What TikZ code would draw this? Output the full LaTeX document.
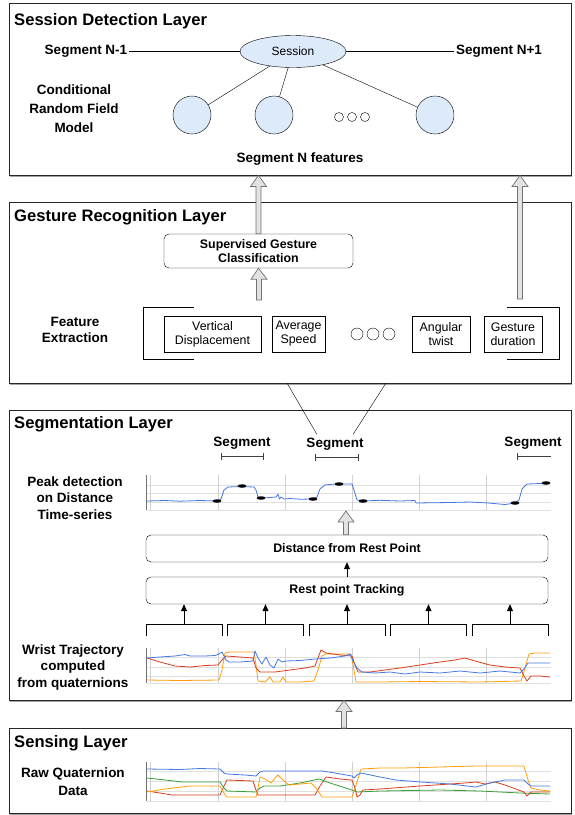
\documentclass[tikz,border=0pt]{standalone}
\usepackage{fontspec}
\setmainfont{Liberation Sans}
\usetikzlibrary{shapes.geometric,arrows.meta,calc,shadows}
\definecolor{nodeblue}{RGB}{221,234,250}
\definecolor{hollow}{RGB}{226,226,226}
\definecolor{gblue}{RGB}{70,120,228}
\definecolor{gred}{RGB}{218,62,28}
\definecolor{gorange}{RGB}{255,158,10}
\definecolor{ggreen}{RGB}{52,160,52}
\tikzset{
  layer/.style={draw=black!85, line width=0.9pt, fill=white, inner sep=0pt,
    drop shadow={shadow xshift=0.5pt, shadow yshift=-2pt, fill=black!60, opacity=0.6}},
  layertitle/.style={anchor=west, inner sep=0pt, font=\fontsize{16.6}{19}\selectfont\bfseries},
  lbl/.style={align=center, inner sep=1.5pt, font=\fontsize{13.5}{16.5}\selectfont\bfseries},
  procbox/.style={draw, rounded corners=5pt, fill=white, align=center, inner sep=0pt,
    font=\fontsize{12.4}{14.5}\selectfont\bfseries},
  featbox/.style={draw, fill=white, align=center, inner sep=0pt, minimum height=36pt,
    font=\fontsize{12.4}{14}\selectfont},
  crfnode/.style={circle, draw, fill=nodeblue, minimum size=38pt, inner sep=0pt},
  ellipsisdot/.style={circle, draw, minimum size=#1, inner sep=0pt},
  peakmark/.style={ellipse, fill=black, minimum width=9pt, minimum height=3.5pt, inner sep=0pt},
  flowarrow/.style={-{Triangle[length=7pt,width=6pt]}, line width=0.8pt},
  segbar/.style={line width=0.8pt, black!75},
  fatarrowstyle/.style={draw=black!55, fill=hollow, line width=0.7pt},
  gridline/.style={black!12, line width=0.5pt},
  trace/.style={line width=0.8pt, line join=round}
}
\newcommand{\fatarrow}[2]{%
  \draw[fatarrowstyle] let \p1=(#1), \p2=(#2) in
    (\x1-2.5pt,\y1) -- (\x1-2.5pt,\y2-11pt) -- (\x1-8pt,\y2-11pt) -- (\x2,\y2)
    -- (\x1+8pt,\y2-11pt) -- (\x1+2.5pt,\y2-11pt) -- (\x1+2.5pt,\y1) -- cycle;}
\begin{document}
\begin{tikzpicture}[x=1pt, y=-1pt]
\useasboundingbox (0,0) rectangle (574,815);

\node[layer, minimum width=562pt, minimum height=172pt] (sdl) at (290,89) {};
\node[layer, minimum width=562pt, minimum height=181pt] (grl) at (290,292.5) {};
\node[layer, minimum width=562pt, minimum height=290pt] (sgl) at (290,555) {};
\node[layer, minimum width=562pt, minimum height=85pt] (snl) at (290,770.5) {};

\node[layertitle] (sdlt) at (14,21) {Session Detection Layer};
\node[layertitle] (grlt) at (14,217) {Gesture Recognition Layer};
\node[layertitle] (sglt) at (14,424) {Segmentation Layer};
\node[layertitle] (snlt) at (14,743) {Sensing Layer};

% session detection
\node[lbl] (segprev) at (86,51.5) {Segment N-1};
\node[ellipse, draw, fill=nodeblue, minimum width=106pt, minimum height=32pt, inner sep=0pt,
  font=\fontsize{12}{14}\selectfont] (sess) at (293,51.5) {Session};
\node[lbl] (segnext) at (499,51.5) {Segment N+1};
\draw (segprev) -- (sess);
\draw (sess) -- (segnext);
\node[lbl, font=\fontsize{13.5}{19}\selectfont\bfseries] (crf) at (74,109) {Conditional\\Random Field\\Model};
\node[crfnode] (c1) at (192,115) {};
\node[crfnode] (c2) at (274,115) {};
\node[crfnode] (c3) at (435,115) {};
\foreach \x/\n in {339/a,352/b,365/c} \node[ellipsisdot=9pt] (sd\n) at (\x,117) {};
\foreach \c in {c1,c2,c3} \draw (\c) -- (sess);
\node[lbl] (segfeat) at (300,159) {Segment N features};

% gesture recognition
\node[procbox, minimum width=189pt, minimum height=34pt] (sgc) at (258.5,251) {Supervised Gesture\\Classification};
\node[featbox, minimum width=97pt] (vd) at (212.5,334) {Vertical\\Displacement};
\node[featbox, minimum width=53pt] (avs) at (298.5,334) {Average\\Speed};
\foreach \x/\n in {357/a,373/b,389/c} \node[ellipsisdot=12pt] (fd\n) at (\x,334) {};
\node[featbox, minimum width=58pt] (ang) at (441,334) {Angular\\twist};
\node[featbox, minimum width=58pt] (gdur) at (513,334) {Gesture\\duration};
\node[lbl] (fext) at (75,330) {Feature\\Extraction};
\draw ([shift={(30,-9)}]vd.north west) -| ([shift={(-21,7)}]vd.south west) -- ++(51,0);
\draw ([shift={(-35,-9)}]gdur.north east) -| ([shift={(17,7)}]gdur.south east) -- ++(-52,0);
\coordinate (fxl) at (259,300);
\coordinate (fxr) at (520,299);
\fatarrow{fxl}{sgc.south}
\fatarrow{sgc.north}{sgc.north |- sdl.south}
\fatarrow{fxr}{fxr |- sdl.south}

% segmentation
\node[lbl] (seg1) at (242,443) {Segment};
\node[lbl] (seg2) at (335,444) {Segment};
\node[lbl] (seg3) at (533,443) {Segment};
\draw[segbar, {Bar[width=7pt]}-{Bar[width=7pt]}] ([shift={(-21,6)}]seg1.south) -- ++(43,0);
\draw[segbar, {Bar[width=7pt]}-{Bar[width=7pt]}] ([shift={(-20,6)}]seg2.south) -- ++(44,0);
\draw[segbar, {Bar[width=7pt]}-] ([shift={(-16,6)}]seg3.south) -- ++(34,0);
\coordinate (gl1) at (287,383);
\coordinate (gl2) at (386,383);
\draw (gl1) -- ([shift={(12,-2)}]seg2.north west);
\draw (gl2) -- ([shift={(-12,-2)}]seg2.north east);
\node[lbl] (peak) at (75,498) {Peak detection\\on Distance\\Time-series};

\foreach \y in {485,493,502,510} \draw[gridline] (147,\y) -- (551,\y);
\foreach \y in {657,667,676,683} \draw[gridline] (147,\y) -- (551,\y);
\foreach \y in {771,781,791,801} \draw[gridline] (147,\y) -- (551,\y);
\foreach \t/\b in {475/510,648/683,762/801} {
  \foreach \x in {218,285,352,419,486} \draw[gridline, black!18] (\x,\t) -- (\x,\b);
  \draw[black!18] (150,\t) -- (150,\b);
  \draw[black!55, line width=0.7pt] (146.5,\t) -- (146.5,\b);
}

\draw[trace, gblue] (147,501) -- (165,500.5) -- (180,501.2) -- (200,500.5) -- (217,501) -- (221,499)
  -- (224,490) -- (228,487) -- (240,486.5) -- (254,487) -- (256,490) -- (258,497) -- (262,498)
  -- (270,497.5) -- (276,497) -- (278,494) -- (279.5,499) -- (281,497) -- (284,499) -- (290,498.5)
  -- (300,499.2) -- (313,499) -- (317,497) -- (320,489) -- (325,485) -- (335,484) -- (352,484)
  -- (354,490) -- (357,500) -- (363,501) -- (380,500.3) -- (400,501) -- (415,500.5) -- (416,503)
  -- (450,502.5) -- (470,502) -- (488,503) -- (505,504.5) -- (515,503) -- (519,500) -- (522,489)
  -- (527,484) -- (540,483.5) -- (550,483);
\foreach \x/\y [count=\i] in {217/501,242/486,261/498,313/499,339/484,363/501,515/503,546/483}
  \node[peakmark] (pk\i) at (\x,\y) {};

\node[procbox, minimum width=402pt, minimum height=27pt] (dfr) at (347,548.5) {Distance from Rest Point};
\node[procbox, minimum width=402pt, minimum height=27pt] (rpt) at (347,590.5) {Rest point Tracking};
\draw[flowarrow] (rpt) -- (dfr);
\coordinate (pkbase) at (346,511);
\fatarrow{dfr.north -| pkbase}{pkbase}
\foreach \i in {0,...,4} {
  \coordinate (win\i) at (184+81.5*\i,624);
  \draw ([shift={(-38,12)}]win\i) |- ([shift={(38,0)}]win\i) -- ++(0,12);
  \draw[flowarrow] (win\i) -- (win\i |- rpt.south);
}
\node[lbl] (wrist) at (73,667) {Wrist Trajectory\\computed\\from quaternions};

\draw[trace, gorange] (147,680) -- (180,680.5) -- (219,680) -- (222,670) -- (225,653) -- (230,652)
  -- (254,652) -- (256,665) -- (258,681) -- (265,682) -- (270,677) -- (273,682) -- (280,682)
  -- (283,677) -- (286,682) -- (300,682) -- (314,681) -- (318,670) -- (322,656) -- (326,654)
  -- (351,654) -- (354,670) -- (356,682) -- (380,682) -- (420,681.5) -- (480,682) -- (521,681)
  -- (525,668) -- (529,654) -- (535,653) -- (550,653);
\draw[trace, gred] (147,658) -- (160,662) -- (175,666) -- (190,667) -- (205,665.5) -- (218,665)
  -- (222,660) -- (226,656) -- (240,657) -- (253,658) -- (256,668) -- (260,672) -- (275,672)
  -- (290,670) -- (305,668) -- (315,666) -- (318,658) -- (321,650) -- (326,653) -- (340,655)
  -- (352,656) -- (355,665) -- (358,672) -- (370,672) -- (385,670) -- (400,668) -- (420,665)
  -- (440,662) -- (455,660) -- (465,658) -- (475,661) -- (490,665) -- (505,667) -- (520,668)
  -- (524,676) -- (527,681) -- (531,676) -- (540,676) -- (550,677);
\draw[trace, gblue] (147,658) -- (160,657) -- (175,656) -- (185,654.5) -- (190,656) -- (205,656)
  -- (215,655.5) -- (219,654) -- (222,652) -- (226,660) -- (229,662) -- (240,662) -- (253,661)
  -- (255,651) -- (258,658) -- (262,664) -- (266,657) -- (270,665) -- (274,668) -- (278,659)
  -- (282,662) -- (286,661) -- (300,660.5) -- (315,659) -- (330,658) -- (345,656) -- (350,654)
  -- (353,661) -- (357,668) -- (362,672) -- (375,673) -- (390,672) -- (405,674) -- (420,672)
  -- (440,673) -- (460,671) -- (480,673) -- (500,671) -- (510,672) -- (520,673) -- (524,669)
  -- (528,663) -- (535,663) -- (550,663);

\coordinate (sntop) at (344,728);
\fatarrow{sntop}{sntop |- sgl.south}

% sensing
\node[lbl, font=\fontsize{13.5}{18}\selectfont\bfseries] (rawq) at (73,782) {Raw Quaternion\\Data};
\draw[trace, ggreen] (147,778) -- (165,780) -- (183,782) -- (220,782) -- (224,788) -- (227,791)
  -- (256,792) -- (260,788) -- (264,786) -- (280,786) -- (300,783) -- (319,779) -- (330,783)
  -- (352,790) -- (357,792) -- (380,791) -- (440,790) -- (480,791) -- (520,793) -- (550,794);
\draw[trace, gred] (147,791) -- (160,793) -- (172,795) -- (220,795) -- (224,786) -- (227,780)
  -- (253,781) -- (256,790) -- (258,795) -- (315,795) -- (320,786) -- (326,777) -- (340,779)
  -- (352,780) -- (355,788) -- (357,797) -- (360,795) -- (363,790) -- (380,789) -- (420,786)
  -- (450,784) -- (465,783) -- (476,782) -- (485,784) -- (495,782) -- (505,785) -- (524,792)
  -- (527,796) -- (531,792) -- (550,792);
\draw[trace, gorange] (147,792) -- (165,789) -- (190,786) -- (220,786) -- (224,793) -- (227,797)
  -- (256,797) -- (258,788) -- (260,777) -- (265,779) -- (271,783) -- (275,778) -- (278,775)
  -- (283,780) -- (289,785) -- (300,784) -- (311,783) -- (316,788) -- (322,797) -- (352,797)
  -- (356,785) -- (361,769) -- (380,768) -- (403,768) -- (440,767) -- (476,766) -- (500,766)
  -- (524,766) -- (528,780) -- (531,788) -- (540,790) -- (550,791);
\draw[trace, gblue] (147,769) -- (180,769.5) -- (200,768.5) -- (220,769) -- (224,773) -- (227,774)
  -- (245,775) -- (256,776) -- (260,772) -- (263,771) -- (300,771) -- (322,771) -- (335,773)
  -- (352,776) -- (354,778) -- (357,775) -- (361,773) -- (380,777) -- (396,780) -- (421,782)
  -- (450,784) -- (476,787) -- (490,783) -- (505,780) -- (524,780) -- (528,784) -- (531,786)
  -- (550,786);
\end{tikzpicture}
\end{document}
